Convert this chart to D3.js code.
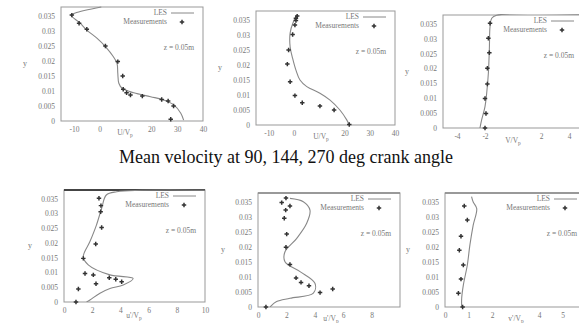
<!DOCTYPE html>
<html><head><meta charset="utf-8">
<script src="https://cdn.jsdelivr.net/npm/d3@7/dist/d3.min.js"></script>
<style>body{margin:0;background:#fff}svg{display:block}text{font-family:"Liberation Serif","DejaVu Serif",serif}</style>
</head><body><svg id="c" width="579" height="323"></svg>
<script>
// ---- data ----
const yTicks = [0, 0.005, 0.01, 0.015, 0.02, 0.025, 0.03, 0.035];
// tick labels visible in the reference (the one under each axis title is covered)
const xTicks1 = [-10, 0, 20, 30, 40];
const xTicks2 = [-10, 0, 20, 30, 40];
const xTicks3 = [-4, -2, 2, 4];
const xTicks4 = [0, 2, 4, 6, 8, 10];
const xTicks5 = [0, 2, 4, 6, 8];
const xTicks6 = [0, 1, 2, 4, 5];
const xLabels = ["U/V", "U/V", "V/V", "u'/V", "u'/V", "v'/V"];
const caption = "Mean velocity at 90, 144, 270 deg crank angle";
const legendLES = "LES", legendMeas = "Measurements", zText = "z = 0.05m";

// LES curves [value, y]
const les1 = [[0.6,0.038],[-9.5,0.036],[-11.1,0.0353],[-7.6,0.0326],[-5,0.0303],[-1.1,0.0276],[2.2,0.0248],[5.3,0.0214],[6.7,0.0192],[7,0.0159],[7.4,0.0126],[8.7,0.0109],[13.2,0.0094],[19.7,0.0081],[24.8,0.007],[28.8,0.0053],[31.4,0.0026],[32.5,0.0003]];
const meas1 = [[-10.8,0.0353],[-8,0.0326],[-5,0.0306],[2.2,0.025],[7,0.0198],[8.9,0.015],[9.1,0.0106],[10.4,0.0094],[11.9,0.0087],[16.5,0.0083],[24,0.0072],[26.5,0.0067],[28.6,0.005],[27.5,0.0006]];
const les2 = [[1.3,0.0367],[-0.2,0.0344],[-1.5,0.0306],[-1.5,0.0261],[-0.5,0.0222],[0.8,0.0183],[2.4,0.015],[5.1,0.0128],[10.3,0.0106],[14.3,0.0083],[18.2,0.005],[20.9,0.0017],[21.9,0]];
const meas2 = [[1.3,0.0363],[0.8,0.0356],[0.8,0.0348],[0.4,0.0333],[-0.5,0.0302],[-2.1,0.025],[-2.6,0.0203],[-1.5,0.0144],[0.4,0.0098],[3.3,0.0074],[10.3,0.0063],[15.9,0.005],[21.9,0.0002]];
const les3 = [[6,0.0381],[-1.17,0.0379],[-1.52,0.0369],[-1.64,0.0341],[-1.69,0.0262],[-1.76,0.0184],[-1.88,0.0117],[-2.0,0.0072],[-2.24,0.0027],[-2.36,0]];
const meas3 = [[-1.64,0.0352],[-1.76,0.0302],[-1.69,0.0253],[-1.83,0.0201],[-1.83,0.0148],[-2.0,0.0099],[-1.93,0.0049],[-2.0,0]];
const les4 = [[10,0.0379],[3.74,0.0374],[3.0,0.0363],[2.67,0.0318],[2.3,0.0261],[1.84,0.0205],[1.37,0.0154],[1.72,0.0126],[3.26,0.0092],[4.9,0.008],[4.2,0.0058],[3.26,0.0046],[2.55,0.003],[1.84,0.0007],[1.6,0]];
const meas4 = [[2.48,0.0352],[2.62,0.0327],[2.6,0.0306],[2.67,0.0253],[2.25,0.0197],[1.37,0.0148],[1.49,0.0097],[2.08,0.0092],[3.21,0.0082],[3.67,0.0077],[4.09,0.0069],[2.27,0.0062],[1.02,0.0044],[0.85,0]];
const les5 = [[2.25,0.0362],[3.19,0.0351],[3.66,0.0323],[3.43,0.0279],[2.73,0.0229],[1.9,0.0184],[1.9,0.0151],[2.96,0.0118],[4.01,0.0079],[3.9,0.0046],[2.25,0.0029],[1.31,0.0018],[0.85,0]];
const meas5 = [[1.97,0.0363],[1.67,0.0348],[2.25,0.0337],[1.95,0.0323],[1.85,0.0296],[2.02,0.0243],[1.97,0.0199],[2.25,0.0142],[2.68,0.0097],[3.03,0.0082],[3.59,0.0071],[4.37,0.0048],[5.26,0.006],[0.56,0]];
const les6 = [[1.13,0.0368],[1.2,0.035],[1.35,0.0328],[1.2,0.0273],[1.06,0.0207],[0.95,0.014],[0.78,0.0073],[0.71,0.0029],[0.71,0]];
const meas6 = [[0.82,0.0337],[0.95,0.029],[0.68,0.0236],[0.61,0.0189],[0.78,0.014],[0.68,0.0093],[0.57,0.0046],[0.75,0]];

// ---- layout ----
const panels = [
  {l:61,r:203,t:7,b:121,xd:[-15,40],xt:xTicks1,les:les1,m:meas1,lab:xLabels[0],lx:125,ly:135,yl:25},
  {l:256,r:395,t:11,b:125,xd:[-15,40],xt:xTicks2,les:les2,m:meas2,lab:xLabels[1],lx:321,ly:139,yl:220},
  {l:443,r:583,t:15,b:128,xd:[-5,5],xt:xTicks3,les:les3,m:meas3,lab:xLabels[2],lx:513,ly:143,yl:407},
  {l:64,r:205,t:190,b:302,xd:[0,10],xt:xTicks4,les:les4,m:meas4,lab:xLabels[3],lx:134,ly:318,yl:30,thick:true},
  {l:258,r:400,t:193,b:307,xd:[0,10],xt:xTicks5,les:les5,m:meas5,lab:xLabels[4],lx:331,ly:321,yl:223,thick:true},
  {l:445,r:586,t:193,b:307,xd:[0,6],xt:xTicks6,les:les6,m:meas6,lab:xLabels[5],lx:516,ly:321,yl:408,thick:true}
];
const svg = d3.select("#c");
const txt = "#777";
panels.forEach((p,i)=>{
  const x = d3.scaleLinear().domain(p.xd).range([p.l,p.r]);
  const y = d3.scaleLinear().domain([0,0.038]).range([p.b,p.t]);
  const g = svg.append("g");
  g.append("clipPath").attr("id","cp"+i).append("rect").attr("x",p.l).attr("y",p.t-1).attr("width",p.r-p.l).attr("height",p.b-p.t+1);
  const ay = g.append("g").attr("transform",`translate(${p.l},0)`).call(d3.axisLeft(y).tickValues(yTicks).tickSize(0).tickPadding(6).tickFormat(d=>String(+d.toFixed(3))));
  const ax = g.append("g").attr("transform",`translate(0,${p.b})`).call(d3.axisBottom(x).tickValues(p.xt).tickSize(0).tickPadding(6).tickFormat(d=>String(d)));
  [ay,ax].forEach(a=>{a.select(".domain").remove();a.selectAll("text").attr("fill",txt).style("font-size","7.5px").style("font-family","'Liberation Serif',serif");});
  g.append("rect").attr("x",p.l).attr("y",p.t).attr("width",p.r-p.l).attr("height",p.b-p.t).attr("fill","none").attr("stroke","#999").attr("stroke-width",1);
  if(p.thick) g.append("line").attr("x1",p.l).attr("x2",p.r).attr("y1",p.t).attr("y2",p.t).attr("stroke", i===3?"#444":"#888").attr("stroke-width",i===3?2:1.5);
  g.append("path").datum(p.les).attr("clip-path",`url(#cp${i})`)
    .attr("d",d3.line().x(d=>x(d[0])).y(d=>y(d[1])).curve(d3.curveCatmullRom))
    .attr("fill","none").attr("stroke","#888").attr("stroke-width",1.1);
  g.selectAll("path.m").data(p.m).join("path").attr("class","m")
    .attr("transform",d=>`translate(${x(d[0])},${y(d[1])})`)
    .attr("d",d3.symbol().type(d3.symbolCross).size(11)).attr("fill","#333");
  const R = p.r;
  g.append("text").attr("x",R-36).attr("y",p.t+8).attr("text-anchor","end").attr("fill",txt).style("font-size","7.5px").text(legendLES);
  g.append("line").attr("x1",R-32).attr("x2",R-9).attr("y1",p.t+6).attr("y2",p.t+6).attr("stroke","#888").attr("stroke-width",1);
  g.append("text").attr("x",R-36).attr("y",p.t+17).attr("text-anchor","end").attr("fill",txt).style("font-size","7.5px").text(legendMeas);
  g.append("path").attr("transform",`translate(${R-21},${p.t+15})`).attr("d",d3.symbol().type(d3.symbolCross).size(11)).attr("fill","#333");
  g.append("text").attr("x",R-9).attr("y",p.t+43).attr("text-anchor","end").attr("fill",txt).style("font-size","7.5px").text(zText);
  const xl = g.append("text").attr("x",p.lx).attr("y",p.ly).attr("text-anchor","middle").attr("fill",txt).style("font-size","7.5px");
  xl.append("tspan").text(p.lab);
  xl.append("tspan").attr("dy",1.5).style("font-size","5.5px").text("p");
  g.append("text").attr("x",p.yl).attr("y",(p.t+p.b)/2+2).attr("text-anchor","middle").attr("fill",txt).style("font-size","8px").text("y");
});
svg.append("text").attr("x",286).attr("y",163).attr("text-anchor","middle").attr("fill","#111")
  .style("font-size","18px").text(caption);
</script></body></html>
